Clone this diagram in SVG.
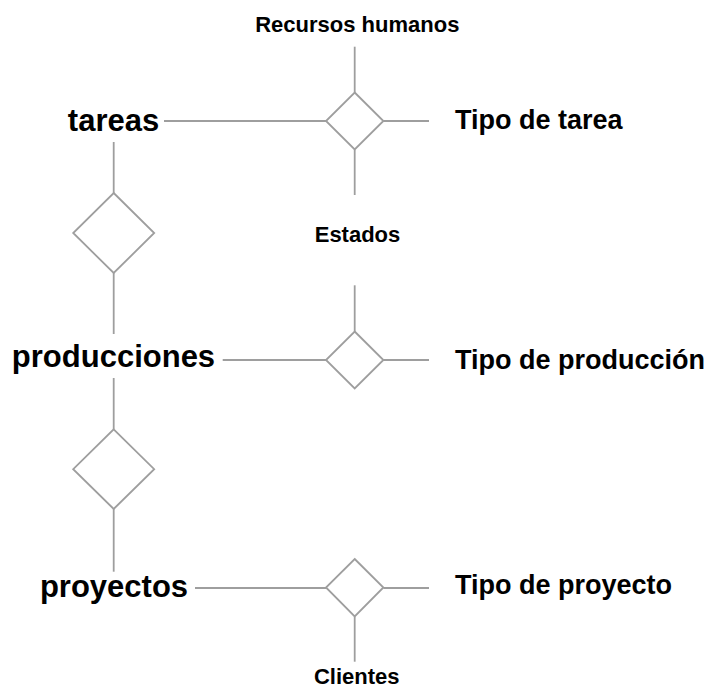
<svg xmlns="http://www.w3.org/2000/svg" width="709" height="688" viewBox="0 0 709 688">
<style>
.ln{stroke:#9e9e9e;stroke-width:1.8;fill:none}
.dm{stroke:#9e9e9e;stroke-width:1.8;fill:#ffffff}
.big{font-family:"Liberation Sans",Arial,sans-serif;font-weight:bold;font-size:31px;fill:#000;text-anchor:middle}
.mid{font-family:"Liberation Sans",Arial,sans-serif;font-weight:bold;font-size:27px;fill:#000}
.sm{font-family:"Liberation Sans",Arial,sans-serif;font-weight:bold;font-size:22px;fill:#000;text-anchor:middle}
</style>
<rect width="709" height="688" fill="#ffffff"/>
<g id="connectors">
<line class="ln" x1="164" y1="121" x2="326" y2="121"/>
<line class="ln" x1="383.4" y1="121" x2="429" y2="121"/>
<line class="ln" x1="354.7" y1="46.7" x2="354.7" y2="92.5"/>
<line class="ln" x1="354.7" y1="149.5" x2="354.7" y2="195"/>
<line class="ln" x1="222.7" y1="360" x2="326" y2="360"/>
<line class="ln" x1="383.4" y1="360" x2="429" y2="360"/>
<line class="ln" x1="354.7" y1="285.3" x2="354.7" y2="331.5"/>
<line class="ln" x1="195" y1="588" x2="326" y2="588"/>
<line class="ln" x1="383.4" y1="588" x2="429" y2="588"/>
<line class="ln" x1="354.7" y1="616.5" x2="354.7" y2="661.7"/>
<line class="ln" x1="113.7" y1="142" x2="113.7" y2="193"/>
<line class="ln" x1="113.7" y1="273" x2="113.7" y2="334"/>
<line class="ln" x1="113.7" y1="378" x2="113.7" y2="429.3"/>
<line class="ln" x1="113.7" y1="509" x2="113.7" y2="571.7"/>
</g>
<g id="rel-tareas-producciones"><polygon class="dm" points="113.7,193 154.2,233 113.7,273 73.2,233"/></g>
<g id="rel-producciones-proyectos"><polygon class="dm" points="113.7,429.3 154.2,469.2 113.7,509 73.2,469.2"/></g>
<g id="rel-tareas"><polygon class="dm" points="354.7,92.5 383.4,121 354.7,149.5 326,121"/></g>
<g id="rel-producciones"><polygon class="dm" points="354.7,331.5 383.4,360 354.7,388.5 326,360"/></g>
<g id="rel-proyectos"><polygon class="dm" points="354.7,559 383.4,587.5 354.7,616.5 326,587.5"/></g>
<g id="tareas"><text class="big" x="113.5" y="131">tareas</text></g>
<g id="producciones"><text class="big" x="113.5" y="366.7">producciones</text></g>
<g id="proyectos"><text class="big" x="114" y="597">proyectos</text></g>
<g id="tipo-tarea"><text class="mid" x="455" y="129">Tipo de tarea</text></g>
<g id="tipo-produccion"><text class="mid" x="455" y="369">Tipo de producción</text></g>
<g id="tipo-proyecto"><text class="mid" x="455" y="594">Tipo de proyecto</text></g>
<g id="recursos-humanos"><text class="sm" x="357.3" y="32">Recursos humanos</text></g>
<g id="estados"><text class="sm" x="357.5" y="242">Estados</text></g>
<g id="clientes"><text class="sm" x="356.7" y="684">Clientes</text></g>
</svg>
